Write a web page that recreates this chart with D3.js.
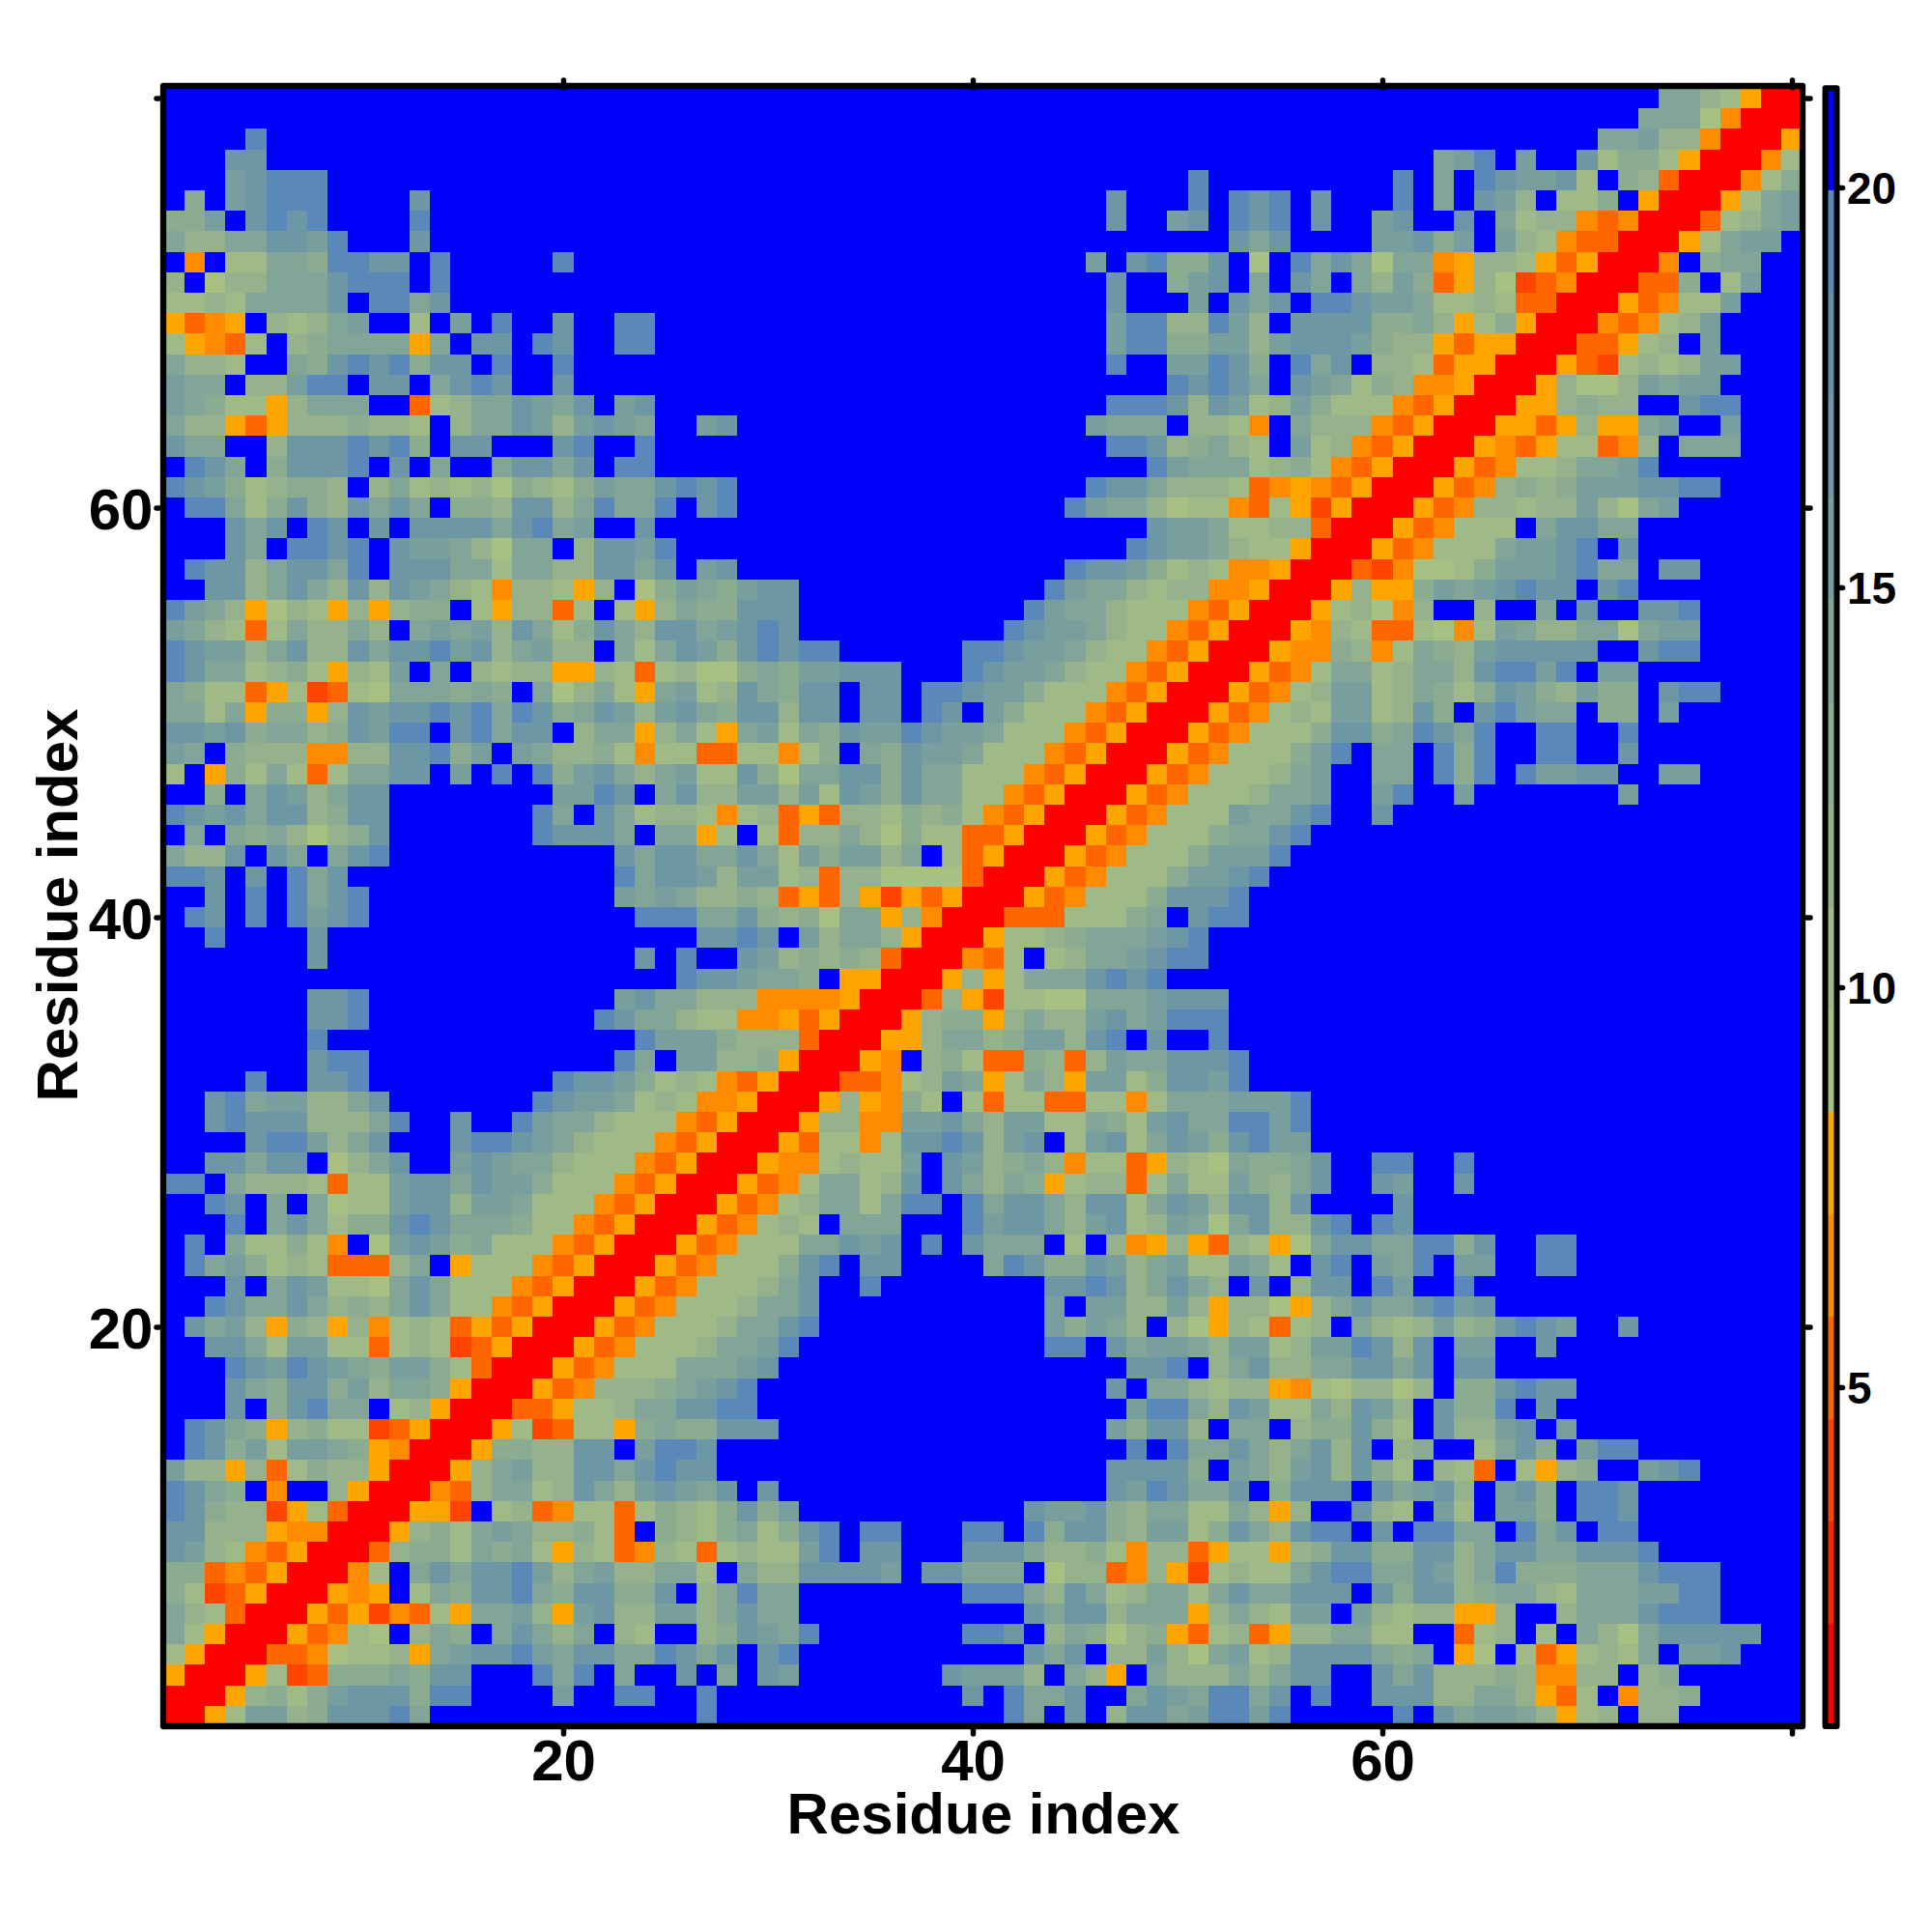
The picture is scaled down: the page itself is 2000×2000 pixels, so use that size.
<!DOCTYPE html>
<html><head><meta charset="utf-8">
<style>html,body{margin:0;padding:0;background:#fff}svg{display:block}text{font-family:"Liberation Sans",Arial,sans-serif;font-weight:700;fill:#000}</style>
<script src="https://cdn.jsdelivr.net/npm/d3@7/dist/d3.min.js"></script>
</head><body><svg id="c" width="2000" height="2000"></svg>
<script>
// Colour-bar levels, lowest to highest
const palette = ["#ff0000","#ff2200","#ff4500","#ff6600","#ff8c00","#ffa500","#a9c083","#a0ba87","#95b28c","#8cac91","#82a597","#789e9e","#6e97a6","#6490ae","#5a88b8","#0000ff"];
const levelCodes = {R:0,e:2,X:3,o:4,O:5,"6":6,"7":7,"8":8,"9":9,a:10,b:11,c:12,s:14,".":15};
const barDomain = [0.76,21.24];
const axisTicks = [20,40,60,80];
const barTicks = [5,10,15,20];
const axisTitle = "Residue index";
// Binned distance per cell; first string is residue 80 (top row), columns run from residue 1
const rows = [
".......... .......... ....... .......... .......... ...... .......... .......... aa87ORR",
".......... .......... ....... .......... .......... ...... .......... ......... aaa6oRRR",
"....s..... .......... ....... .......... .......... ...... .......... ....... aab88oRRRO",
"...cc..... .......... ....... .......... .......... ...... ......... abs.b..c7997ORRRo7",
"...bcsss.. .......... ....... .......... .......... ...s.. .......s.a.scbbc7.98XRRRo79",
".9.bcsss....c.............. ...................c...s.s cs.c...s.a.cb8.779.ORRRO7ab",
"99b.cscs....s.............. ...................c..bc.s cs.c..bc..c.a788oXoRRRX78ab",
"a88aaccbs...c.............. .........................c ac....bbc9b.b87oXXRRRO7abb.",
".o.77aa9sscc.s.....s....... ..................b.cs99c. 6.saca6aaoO887OXORRRo.9aa..",
"8.688aaacsss.s............. ...................c..9bc. a.ca.a8b9XO86eXoRRRXX9.7b..",
"7787aaaac.ssac............. ...................c...b.c ac.sscbba7787XXRRROXo77b...",
"OXoO.878ab..7.b.s..c..ss... ...................bss88sb 8.cccc99a8O79ORRRoXo78b....",
"7OoX7.89aaaaOa.cc.sc..ss... ...................bss99bb 8bcccb988OXOORRRXXO78.b....",
"a887..a9cscs9cc.s..s....... ...................s..bbsc 9.sac.887XOORRROXe7878bb...",
"baa.88bss.cc.acsc..c....... ......................scsc a.cba798ooORRRO8668babb....",
"ba977O8aaa..X78aacbac.bc... ...................sssc8cb 78b9777oXORRROO8988..css...",
"a88OXO8889887.8aacb8bcba..b c.................baaa.887 o.a888oXORRROOXO8OOab..b...",
"caa..8cccscs9.cc...cs..s... ...................ssc89a8 7.b78oXORRROoXO77Xo8.aaa...",
".sca.9cccs.c.a..accac.ss... .....................sbaaa 7897oXORRROXo778aabs.......",
"scb978998.8a787869879baacsc s.................scca8887 XoOoXORRROXo8989bbbccss....",
".ssa79c98caca.998cc8asaas.c s................sbaa8677o X7OeORRROXo88788b86ab......",
"...cac.sc.c.ccccacsab..c... .....................cbba7 788XRRROXo777.accaa........",
"...ca.sscs.cbba86aa.8ccbs.. ....................scbba8 77ORRROXo777abbcs.c........",
".scc8accas.cccaa7aa88ccac.b c................sccb9787o oORRRXeo6679bbbcsaa.cc.....",
"..cc8aca8c8cba87o887O8.69ba 9bcc............sbaa8788oo ORRRO8OO9babcscc.cs........",
"sba8O687O8O899.7O88X7.7O8a9 9ccc...........sbaa8777oXO RRRO786o8..8..a.c..ccs.....",
"ba87X7a88a8.abab8ca79ca8cca bcsc..........scbba877oXOR RROo87XX76o7ba88aa6abb.....",
"scbb8ac88caccsbc8ab88.a7acb 9cscss......sscbba877oXORR ROoo98o7a98bccccc..css.....",
"scaa7897O87b.a.8788OO87X786 69a9bbccc...scbba877oXORRR OXo7aa78aa8cssbs.bb........",
"a977XO7eX76aaa9a9.a68a7Oab7 8ca9cc.cc.sscbb9777oXORRRO Xo78bb78a979cb98b99.css....",
"aa7aO99O8cbccscsasc9acb8bca 9cc8cc.cc.sc.b9777oXORRROX o787bb78c9.csbaa.99.b......",
"ccbc9aa89cbss.csacc.8aaO8a7 Oab7a9cbbscbba777oXORRROXo 7779cc9ascas..ss..s........",
"ba.9888oo88ccs9b.ba8897o77X X77o79.a9cbba777oXORRROXo7 779bs.aa.s9s..ss..c........",
"7.O97a7X7aacc.b.s.s9bca8ab7 7c96aacc9caa777oXORRROXo77 78ab..aa.s9s.sbbcc..bb.....",
"..9.acb8acc........bbsc.ac8 8bb8b7cb9caa77oXORRROXo777 8aab..bs..b.......b........",
"scbcacc89cc.......sa.ca7887 o78XOX8879897oXORRROXo777b aacs..c....................",
".a.a9a8689c.......sccca.aaO 7.7X88a86977XXORRROXo7779a acs........................",
"a88c.ca.acs.........  ..cacca aca7b9bb8a.7XORRROXo7779bb bs.........................",
"ssc.c.sac. .......... ..saccb 8bb78X886666XRRROXo7779bbc s..........................",
"..c.s.sacs .......... ..baba8 898XOX8OeOXORRROXo7779cccs ...........................",
".sc.s.sbcs .......... ...sssa ac9896aaO8oRRRXXX7779a.css ...........................",
"..s....c.. .......... ......c csc.b8aa8ORRRO7789aaabcs.. ...........................",
".......c.. .......... ...c.s. .cb89898XRRRoX7.78aabcss.. ...........................",
".......... .......... .....sc cbaa9.OORRRO8O7aaacscs.... ...........................",
".......ccs .......... ..bcaa8 88ooooORRRX8Oe7766aaabccc. ...........................",
".......ccs .......... .scaa87 7ooOXORRRO899O8a88bcabsss. ...........................",
".......s.. .......... ...sbbb 9888XRRROO8aa89bb8cs.c..s. ...........................",
".......css .......... ..sa.bb 889ORRROo.897XX98X8baacccs ...........................",
"....s..ccs .........s ccb9787 oXORRRXXo78baO7a8Obb79ccbs ...........................",
"..csabb88a c.......sc bba787o oORRRO8Oo97.7X77XX77o7aaab bbs........................",
"..csccc888 as..c..sba a8777oX ORRRO88oobbca8bb77a97bcaas sbs........................",
"....cssb8a c...csscba 8777oXO RRROX77o7ccsc8bc.7bc7acb9c sbb........................",
"..ccacc.68 ac..bcbaa8 777oXOR RROoo7877b.cb89a8o77XO876a 99ac..ss..s................",
"ss.a8887X7 7bccacbb97 77oXORR ROXo7aa78c.ca8a9O788X7a77b 98ac..cb..c................",
"..sc.a.a67 7bcc8bba77 7oXORRR OXo78aa7ass.sacca8cc7acb8c c8c....c...................",
"...s.aca79 9cscaaa977 oXORRRO Xo787.aaa...sbcca8bc78ba6a c88cs.sc...................",
".s.a7797o. 6bcb9a777o XORRROX o777aacbc.s.caaa.7.8oO8OX8 7O6accaass9c..ss...........",
".sab9787XX X8a.O777oX ORRROXo 7779cs.cc....asc99cb8ab77b a7.cs.bas.bb..ss...........",
"...c.acb77 6aca777oXO RRROXo7 778ac..s........ccsc8aca8. c.8cc.sb..s................",
"..scaaca89 8aca77oXOR RROXo77 78aac...........b.bb88b8O8 86O8acaacsbc...............",
".cab8O98O8 o787XOXORR ROXo777 8aacs...........b9ba8.86O8 7X78.a878b89cscb..c........",
"..cca7bb77 X787eXORRR OXo7778 aabs............ss.cabba8b b78bbsc8c.bb..c............",
"...scbscba 9bb97XRRRO Xo777aa abc.................ccs.8a c88aaccac.cc...............",
"...ca9cc9b 8aa9ORRROX o8889ab cs.................c.aa878 8Oo768868.99cscc...........",
"...c.9csaa .78ORRRXXO 778aacc ss..................bssa8c b77a8cb8.c99s.c............",
".sca9O8977 eXORRRO7eX 77O9a99 ccc................b9cc8.a a.899c97.c88bc.b...........",
".sc9b7bba9 OoRRRO9988 cc.bssc ....................s.saac a8ac8c.89..7ac9.bss........",
"b88O8X7988 ORRRO8ab88 ccacscc ...................cccc9.b a8bc8c97.87X.7O89..bcs.....",
"sca9.o..8O RRRoX8aa78 ca8bcba c.c................cbscaac .9ccc.cabc8.bc9.ssc........",
"sc988eO7XR RROOe.78Xo 77X7987 9c9b...........cbbc98aa77a 8O8..c87.b7.bb9.ssc........",
"cc888OooRR RO897aba88 97X.987 9a79cs.ss...ss.s9cc98bb79c a8css.c.ssaa.sac.ss........",
"cb87oXORRR X8997a9a7O 87Xo87X 7877bs.cc...ccca88 97o88XO7 7O89cc99cc8accaacccs.......",
"99XoXORRRo 7.acaccsb8 ab88aa7 .a88ccccb.ccaaa.688Xo8Oe78 77acssaacb8as999aaacsss....",
"97eXORRROo O.7a9ccsa9 cc99c.8 asaa........sssa8ca78aa7ac aaccc.c9cc89aa87aaabbss....",
"a87XRRROXO eoX7Oaab8O bc88bb8 acaa...........cacc8aaaO8a 87bb.b8788OO8..8aaacsss....",
"a7ORRROXo7 6.8a9.aca8 a.87..8 9cbas.......ssc.8a9689OX78 XO88aa77..X78.7.a86accccc..",
"7ORRRXXo67 78Oabccsba ccaasca c.cs...........cac.88b86ab 78cccca9a.O6.7XO787a.bbc...",
"ORRRO7eX99 9a9cc...sa s.a..c. a.cb.......cbbb8.a8O.a888a 8acc..cac88898oo88.89......",
"RRRO8979bc cc9ss....b ..ss..s ............c.saac..acbass ac.s..ccc88aa8OX7.o889.....",
"RRO7bb89cc csa....... ......s ..............sa.c.8ccabss bs.....s.cabba8O78.88......"
];
const bad = rows.map((r,i)=>[i,r.replace(/ /g,"").length]).filter(d=>d[1]!==80);
if (rows.length!==80 || bad.length) throw new Error("rows "+rows.length+" bad "+JSON.stringify(bad));

const svg = d3.select("#c");
const x = d3.scaleLinear().domain([0.5,80.5]).range([169.6,1865.6]);
const y = d3.scaleLinear().domain([0.5,80.5]).range([1787,91]);
const colour = d3.scaleQuantize().domain(barDomain).range(palette);
const step = (barDomain[1]-barDomain[0])/palette.length;
const cells = [];
rows.forEach((r,j)=>{
  r.replace(/ /g,"").split("").forEach((ch,i)=>{
    cells.push({res1:i+1,res2:80-j,value:barDomain[0]+step*(levelCodes[ch]+0.5)});
  });
});
svg.append("g").attr("shape-rendering","crispEdges").selectAll("rect").data(cells).join("rect")
  .attr("x",d=>x(d.res1-0.5)).attr("y",d=>y(d.res2+0.5))
  .attr("width",d=>x(d.res1+0.5)-x(d.res1-0.5)).attr("height",d=>y(d.res2-0.5)-y(d.res2+0.5))
  .attr("fill",d=>colour(d.value));

function styleAxis(g,fs){
  g.select(".domain").remove();
  g.selectAll(".tick line").attr("stroke","#000").attr("stroke-width",5.5).attr("stroke-linecap","round");
  g.selectAll(".tick text").style("font-size",fs+"px").attr("fill","#000");
}
const lbl = d=>d===80?"":d;
const bottom = svg.append("g").attr("transform","translate(0,1787)")
  .call(d3.axisBottom(x).tickValues(axisTicks).tickSize(8).tickPadding(26).tickFormat(lbl)).call(styleAxis,60);
bottom.selectAll(".tick text").attr("dy","0").attr("y",56);
svg.append("g").attr("transform","translate(0,91)")
  .call(d3.axisTop(x).tickValues(axisTicks).tickSize(8).tickFormat("")).call(styleAxis,60);
const left = svg.append("g").attr("transform","translate(169,0)")
  .call(d3.axisLeft(y).tickValues(axisTicks).tickSize(7).tickFormat(lbl)).call(styleAxis,60);
left.selectAll(".tick text").attr("x",-10.5).attr("dy","0").attr("y",22);
svg.append("g").attr("transform","translate(1866,0)")
  .call(d3.axisRight(y).tickValues(axisTicks).tickSize(8).tickFormat("")).call(styleAxis,60);

svg.append("rect").attr("x",x.range()[0]-0.6).attr("y",y.range()[1]-2).attr("width",x.range()[1]-x.range()[0]+1).attr("height",y.range()[0]-y.range()[1]+2)
  .attr("fill","none").attr("stroke","#000").attr("stroke-width",6.3).attr("stroke-linejoin","round");

// colour bar
const barY = d3.scaleLinear().domain([5,20]).range([1436,194]);
const barX = 1889.5, barW = 12;
const bins = palette.map((c,i)=>({c,lo:barDomain[0]+step*i,hi:barDomain[0]+step*(i+1)}));
svg.append("g").attr("shape-rendering","crispEdges").selectAll("rect").data(bins).join("rect")
  .attr("x",barX).attr("width",barW).attr("y",d=>barY(d.hi)).attr("height",d=>barY(d.lo)-barY(d.hi)).attr("fill",d=>d.c);
svg.append("rect").attr("x",barX).attr("width",barW).attr("y",barY(barDomain[1])).attr("height",barY(barDomain[0])-barY(barDomain[1]))
  .attr("fill","none").attr("stroke","#000").attr("stroke-width",6).attr("stroke-linejoin","round");
const barAxis = svg.append("g").attr("transform",`translate(${barX+barW},0)`)
  .call(d3.axisRight(barY).tickValues(barTicks).tickSize(6).tickPadding(3)).call(styleAxis,46);
barAxis.selectAll(".tick text").attr("x",10.5).attr("dy","0").attr("y",16);

svg.append("text").attr("x",1018).attr("y",1898).attr("text-anchor","middle").style("font-size","60px").text(axisTitle);
svg.append("text").attr("transform","translate(80,937) rotate(-90)").attr("text-anchor","middle").style("font-size","60px").text(axisTitle);
</script>
</body></html>
